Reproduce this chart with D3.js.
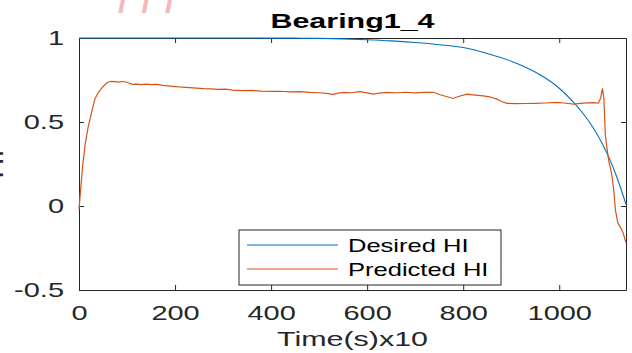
<!DOCTYPE html>
<meta charset="utf-8">
<script src="https://d3js.org/d3.v7.min.js"></script>
<style>
  body { margin: 0; background: #fff; }
  svg { display: block; }
  .axis path, .axis line { stroke: #262626; stroke-width: 1; }
  .axis text { fill: #262626; font-family: "Liberation Sans", Arial, sans-serif; }
</style>
<body>
<script>

// Desired HI
var desiredT  = [0, 100, 200, 300, 400, 450, 500, 550, 600, 650, 700, 750, 800, 850, 900, 930, 960, 1000, 1030, 1050, 1070, 1090, 1105, 1120, 1139];
var desiredHI = [1, 1, 1, 1, 0.9995, 0.999, 0.998, 0.995, 0.99, 0.983, 0.973, 0.96, 0.943, 0.908, 0.862, 0.826, 0.781, 0.701, 0.617, 0.549, 0.469, 0.369, 0.279, 0.171, 0.01];

// Predicted HI
var predT  = [0, 4, 8, 13, 19, 24, 28, 33, 38, 44, 50, 56, 61, 68, 75, 82, 90, 98, 105, 112, 120, 130, 140, 150, 162,
              175, 190, 202, 215, 230, 245, 260, 275, 290, 305, 320, 340, 360, 380, 400, 420, 440, 460, 480, 500,
              515, 529, 540, 550, 565, 585, 600, 613, 625, 640, 660, 680, 700, 720, 738, 752, 765, 779, 790, 808,
              825, 842, 855, 870, 880, 891, 910, 930, 950, 970, 995, 1010, 1030, 1050, 1071, 1081, 1086, 1090, 1093,
              1096, 1100, 1103, 1107, 1110, 1114, 1117, 1122, 1128, 1133, 1139];
var predHI = [-0.02, 0.12, 0.25, 0.37, 0.47, 0.53, 0.58, 0.635, 0.665, 0.69, 0.71, 0.728, 0.738, 0.742, 0.740, 0.737, 0.741, 0.738, 0.731, 0.724, 0.726, 0.722, 0.725, 0.723, 0.724,
              0.718, 0.714, 0.711, 0.707, 0.705, 0.702, 0.699, 0.697, 0.694, 0.696, 0.690, 0.687, 0.688, 0.684, 0.682, 0.683, 0.679, 0.681, 0.676, 0.674,
              0.670, 0.665, 0.672, 0.676, 0.674, 0.681, 0.673, 0.666, 0.672, 0.676, 0.674, 0.677, 0.673, 0.676, 0.677, 0.662, 0.652, 0.640, 0.652, 0.666,
              0.660, 0.655, 0.650, 0.636, 0.622, 0.611, 0.609, 0.610, 0.611, 0.613, 0.617, 0.613, 0.607, 0.612, 0.615, 0.612, 0.640, 0.700, 0.640,
              0.420, 0.330, 0.270, 0.220, 0.175, 0.080, -0.025, -0.10, -0.13, -0.16, -0.22];

var xTicks = [0, 200, 400, 600, 800, 1000];
var yTicks = [-0.5, 0, 0.5, 1];
var yTickLabels = ["-0.5", "0", "0.5", "1"];
var seriesNames = ["Desired HI", "Predicted HI"];
var seriesColors = ["#0072BD", "#D95319"];

var width = 632, height = 353;
var margin = {top: 38, right: 6, bottom: 63, left: 79};
var stretch = 1.38;   // the picture's text is wide

var x = d3.scaleLinear().domain([0, 1139]).range([margin.left, width - margin.right]);
var y = d3.scaleLinear().domain([-0.5, 1]).range([height - margin.bottom, margin.top]);

var svg = d3.select("body").append("svg")
    .attr("width", width)
    .attr("height", height);

// faint watermark at the very top
svg.append("text")
    .attr("x", 118).attr("y", 12)
    .attr("fill", "#f7b8b8")
    .attr("font-family", "Liberation Sans, Arial")
    .attr("font-weight", "bold")
    .attr("font-size", 34)
    .attr("letter-spacing", 14)
    .text("///");

// stretched text helper
function addText(px, py, str, size, opts) {
  opts = opts || {};
  var g = svg.append("g").attr("transform", "translate(" + px + "," + py + ")" + (opts.rotate ? " rotate(" + opts.rotate + ")" : ""));
  return g.append("text")
      .attr("transform", "scale(" + (opts.sx || stretch) + ",1)")
      .attr("text-anchor", opts.anchor || "middle")
      .attr("font-family", "Liberation Sans, Arial, sans-serif")
      .attr("font-weight", opts.bold ? "bold" : "normal")
      .attr("font-size", size)
      .attr("fill", opts.fill || "#262626")
      .text(str);
}

// axes (ticks point inward, box on)
var xAxis = svg.append("g")
    .attr("class", "axis")
    .attr("transform", "translate(0," + y(-0.5) + ")")
    .call(d3.axisBottom(x).tickValues(xTicks).tickSizeInner(-5).tickSizeOuter(0).tickPadding(15).tickFormat(d3.format("d")));
xAxis.selectAll("text").attr("font-size", 21).attr("transform", "scale(" + stretch + ",1)");

var yAxis = svg.append("g")
    .attr("class", "axis")
    .attr("transform", "translate(" + x(0) + ",0)")
    .call(d3.axisLeft(y).tickValues(yTicks).tickSizeInner(-5).tickSizeOuter(0).tickPadding(15)
      .tickFormat(function(d, i) { return yTickLabels[i]; }));
yAxis.selectAll("text").attr("font-size", 21)
    .attr("x", -15 / stretch)
    .attr("transform", "scale(" + stretch + ",1)");

svg.append("g")
    .attr("class", "axis")
    .attr("transform", "translate(0," + y(1) + ")")
    .call(d3.axisTop(x).tickValues(xTicks).tickSizeInner(-5).tickSizeOuter(0).tickFormat(""));

svg.append("g")
    .attr("class", "axis")
    .attr("transform", "translate(" + x(1139) + ",0)")
    .call(d3.axisRight(y).tickValues(yTicks).tickSizeInner(-5).tickSizeOuter(0).tickFormat(""));

// lines
var desired = desiredT.map(function(t, i) { return [t, desiredHI[i]]; });
var predicted = predT.map(function(t, i) { return [t, predHI[i]]; });

var line = d3.line()
    .x(function(d) { return x(d[0]); })
    .y(function(d) { return y(d[1]); });

svg.append("path")
    .datum(desired)
    .attr("fill", "none")
    .attr("stroke", seriesColors[0])
    .attr("stroke-width", 1.1)
    .attr("d", line.curve(d3.curveMonotoneX));

svg.append("path")
    .datum(predicted)
    .attr("fill", "none")
    .attr("stroke", seriesColors[1])
    .attr("stroke-width", 1.2)
    .attr("d", line.curve(d3.curveLinear));

// title and labels
addText((x(0) + x(1139)) / 2, 28, "Bearing1_4", 21, {bold: true, sx: 1.45, fill: "#000"});
addText((x(0) + x(1139)) / 2, 346, "Time(s)x10", 21, {sx: 1.45});
addText(3, (y(-0.5) + y(1)) / 2, "HI", 21, {rotate: -90});

// legend
var lg = svg.append("g").attr("transform", "translate(239,230)");
lg.append("rect")
    .attr("width", 262).attr("height", 55)
    .attr("fill", "#fff")
    .attr("stroke", "#262626")
    .attr("stroke-width", 1);
seriesNames.forEach(function(name, i) {
  var ly = 15 + i * 24;
  lg.append("line")
      .attr("x1", 8).attr("x2", 99)
      .attr("y1", ly).attr("y2", ly)
      .attr("stroke", seriesColors[i])
      .attr("stroke-width", 1.2);
  lg.append("g").attr("transform", "translate(109," + (ly + 6.5) + ")")
    .append("text")
      .attr("transform", "scale(" + stretch + ",1)")
      .attr("font-family", "Liberation Sans, Arial, sans-serif")
      .attr("font-size", 18.5)
      .attr("fill", "#000")
      .text(name);
});

</script>
</body>
